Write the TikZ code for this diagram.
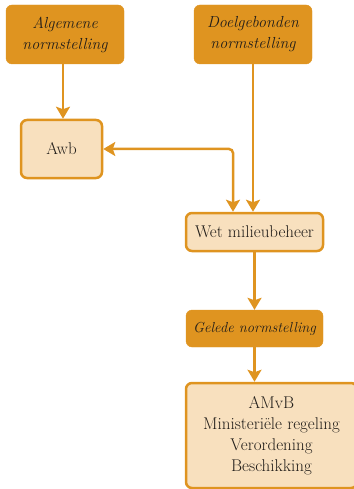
\documentclass[tikz,border=0pt]{standalone}
\usetikzlibrary{arrows.meta,positioning,calc}
\definecolor{normdark}{HTML}{DF9420}
\definecolor{normlight}{HTML}{F8E0BE}
\definecolor{normtext}{HTML}{221E1A}
\tikzset{>={Stealth[length=12pt,width=14pt,inset=2.5pt]}}
\tikzset{
  darkbox/.style={fill=normdark,draw=normdark,rounded corners=6pt,align=center,
    text=normtext,font=\fontsize{16}{21}\selectfont\itshape,inner sep=0pt},
  lightbox/.style={fill=normlight,draw=normdark,line width=2.5pt,rounded corners=6pt,
    align=center,text=normtext,font=\fontsize{17}{21}\selectfont,inner sep=0pt},
  link/.style={draw=normdark,line width=2.5pt,->}
}

\begin{document}
\begin{tikzpicture}[x=1pt,y=-1pt]
  \useasboundingbox (0,0) rectangle (353,489);

  % Boxes
  \node[darkbox,minimum width=118pt,minimum height=59pt] (alg) at (65,34.5) {Algemene\\normstelling};
  \node[darkbox,minimum width=118pt,minimum height=59pt] (doel) at (253,34.5) {Doelgebonden\\normstelling};
  \node[lightbox,minimum width=81pt,minimum height=58pt] (awb) at (61.5,149) {Awb};
  \node[lightbox,minimum width=137pt,minimum height=38pt] (wet) at (254.5,232) {Wet milieubeheer};
  \node[darkbox,minimum width=137pt,minimum height=37pt,font=\fontsize{14.5}{20}\selectfont\itshape]
    (gel) at (254.5,328.5) {Gelede normstelling};
  \node[lightbox,minimum width=171pt,minimum height=105pt] (inst) at (271.5,435.5)
    {AMvB\\Ministeriële regeling\\Verordening\\Beschikking};

  % Connectors
  \coordinate (wetin) at ($(wet.north)+(-21.5,0)$);
  \draw[link] (alg.south -| 63,0) -- (awb.north -| 63,0);
  \draw[link,<->,rounded corners=4pt] (awb.east) -- (awb.east -| wetin) -- (wetin);
  \draw[link] (doel.south) -- (doel.south |- wet.north);
  \draw[link] (wet.south) -- (gel.north);
  \draw[link] (gel.south) -- (gel.south |- inst.north);
\end{tikzpicture}
\end{document}
